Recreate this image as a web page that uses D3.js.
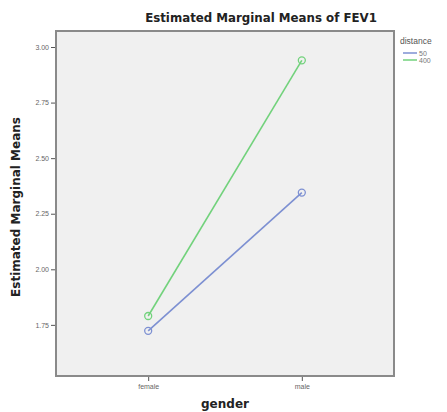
<!DOCTYPE html>
<html>
<head>
<meta charset="utf-8">
<script src="https://cdn.jsdelivr.net/npm/d3@7"></script>
<style>
body { margin: 0; background: #fff; }
svg { display: block; font-family: "Liberation Sans", "DejaVu Sans", sans-serif; }
</style>
</head>
<body>
<svg id="chart" width="447" height="412"></svg>
<script>
var genders = ["female", "male"],
distances = ["50", "400"],
means50 = [1.723, 2.345],
means400 = [1.79, 2.94],
yTicks = [1.75, 2.00, 2.25, 2.50, 2.75, 3.00],
colors = ["#7d90d2", "#72d27c"];

var width = 447, height = 412,
margin = {"top": 31, "right": 53, "bottom": 36, "left": 56};

var svg = d3.select("#chart");

var x = d3.scalePoint()
	.domain(genders)
	.range([margin.left, width - margin.right])
	.padding(0.6);

var y = d3.scaleLinear()
	.domain([1.52, 3.072])
	.range([height - margin.bottom, margin.top]);

// plot background + frame
svg.append("rect")
	.attr("x", margin.left)
	.attr("y", margin.top)
	.attr("width", width - margin.left - margin.right)
	.attr("height", height - margin.top - margin.bottom)
	.attr("fill", "#f0f0f0")
	.attr("stroke", "#8a8a8a")
	.attr("stroke-width", 2);

// y axis
svg.append("g")
	.attr("transform", `translate(${margin.left - 1},0)`)
	.call(d3.axisLeft(y).tickValues(yTicks).tickFormat(d3.format(".2f")).tickSize(4).tickPadding(2))
	.call(g => g.select(".domain").remove())
	.call(g => g.selectAll(".tick line").attr("stroke", "#555"))
	.call(g => g.selectAll(".tick text").attr("fill", "#666").attr("font-size", 7).attr("font-family", "Liberation Sans"));

// x axis
svg.append("g")
	.attr("transform", `translate(0,${height - margin.bottom + 1})`)
	.call(d3.axisBottom(x).tickSize(4).tickPadding(3))
	.call(g => g.select(".domain").remove())
	.call(g => g.selectAll(".tick line").attr("stroke", "#555"))
	.call(g => g.selectAll(".tick text").attr("fill", "#666").attr("font-size", 7).attr("font-family", "Liberation Sans"));

// title
svg.append("text")
	.attr("x", 261)
	.attr("y", 22)
	.attr("text-anchor", "middle")
	.attr("font-weight", "bold")
	.attr("font-size", 11.8)
	.attr("font-family", "DejaVu Sans")
	.attr("fill", "#222")
	.text("Estimated Marginal Means of FEV1");

// axis titles
svg.append("text")
	.attr("transform", "translate(20,207) rotate(-90)")
	.attr("text-anchor", "middle")
	.attr("font-weight", "bold")
	.attr("font-size", 12)
	.attr("font-family", "DejaVu Sans")
	.attr("fill", "#222")
	.text("Estimated Marginal Means");

svg.append("text")
	.attr("x", x("female") / 2 + x("male") / 2)
	.attr("y", 408)
	.attr("text-anchor", "middle")
	.attr("font-weight", "bold")
	.attr("font-size", 12)
	.attr("font-family", "DejaVu Sans")
	.attr("fill", "#222")
	.text("gender");

// lines + markers
var series = [means50, means400];
series.forEach(function(vals, i) {
	var pts = genders.map((g, j) => [x(g), y(vals[j])]);
	svg.append("path")
		.attr("d", d3.line()(pts))
		.attr("fill", "none")
		.attr("stroke", colors[i])
		.attr("stroke-width", 1.6);
	svg.append("g")
		.selectAll("circle")
		.data(pts)
		.enter().append("circle")
		.attr("cx", d => d[0])
		.attr("cy", d => d[1])
		.attr("r", 3.5)
		.attr("fill", "none")
		.attr("stroke", colors[i])
		.attr("stroke-width", 1.3);
});

// legend
var legend = svg.append("g").attr("transform", "translate(400,44)");
legend.append("text")
	.attr("x", 0)
	.attr("y", 0)
	.attr("font-size", 8.5)
	.attr("fill", "#555")
	.text("distance");
distances.forEach(function(d, i) {
	legend.append("line")
		.attr("x1", 3).attr("x2", 17)
		.attr("y1", 9 + i * 7).attr("y2", 9 + i * 7)
		.attr("stroke", colors[i])
		.attr("stroke-width", 1.5);
	legend.append("text")
		.attr("x", 19)
		.attr("y", 11.5 + i * 7)
		.attr("font-size", 7)
		.attr("fill", "#777")
		.text(d);
});
</script>
</body>
</html>
